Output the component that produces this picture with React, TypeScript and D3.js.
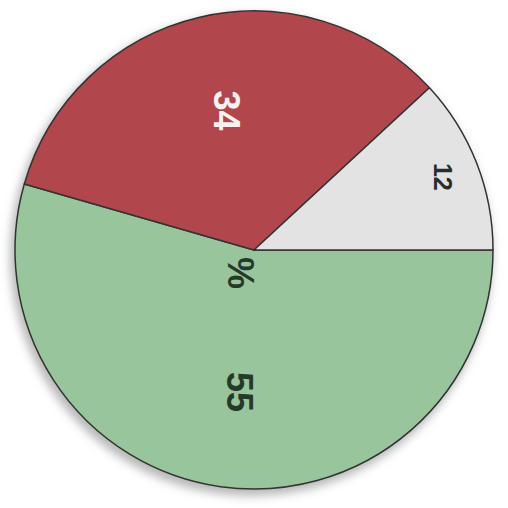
import React from "react";
import * as d3 from "d3";

// slice values (percent), in drawing order clockwise from 3 o'clock
const labels = ["55", "34", "12"];
const values = [55, 34, 12];
const fills = ["#99c59c", "#b1464c", "#e3e3e3"];
const textColors = ["#263a2b", "#f6f1ef", "#2c2c2c"];
const unit = "%";

const W = 508;
const H = 508;
const cx = 254;
const cy = 250;
const radius = 239;

const App = () => {
  const pie = d3
    .pie<number>()
    .sort(null)
    .value((d) => d)
    .startAngle(Math.PI / 2)
    .endAngle(Math.PI / 2 + 2 * Math.PI);

  const arcs = pie(values);

  const arc = d3.arc<d3.PieArcDatum<number>>().innerRadius(0).outerRadius(radius);

  // labels sit further out on thin slices
  const labelPos = (d: d3.PieArcDatum<number>) => {
    const span = d.endAngle - d.startAngle;
    const r = span < 1 ? radius * 0.84 : radius * 0.6;
    return d3.arc<d3.PieArcDatum<number>>().innerRadius(r).outerRadius(r).centroid(d);
  };

  return (
    <svg
      width={W}
      height={H}
      style={{ position: "absolute", left: 0, top: 0, background: "#fff" }}
    >
      <defs>
        <filter id="shadow" x="-20%" y="-20%" width="140%" height="140%">
          <feGaussianBlur stdDeviation="5" />
        </filter>
      </defs>
      <circle cx={cx - 3} cy={cy + 5} r={radius + 2} fill="#b8b8b8" filter="url(#shadow)" />
      <g transform={`translate(${cx},${cy})`}>
        {arcs.map((d, i) => (
          <path
            key={labels[i]}
            d={arc(d) || ""}
            fill={fills[i]}
            stroke="#333"
            strokeWidth={1.5}
            strokeLinejoin="round"
          />
        ))}
        {arcs.map((d, i) => {
          const [x, y] = labelPos(d);
          const small = d.endAngle - d.startAngle < 1;
          return (
            <text
              key={"t" + labels[i]}
              transform={`translate(${x + (small ? 2 : 6)},${y}) rotate(90)`}
              textAnchor="middle"
              dominantBaseline="central"
              fontFamily="Liberation Sans, Arial, sans-serif"
              fontWeight="bold"
              fontSize={small ? 25 : 36}
              fill={textColors[i]}
            >
              {labels[i]}
            </text>
          );
        })}
        <text
          transform={`translate(-14,23) rotate(90)`}
          textAnchor="middle"
          dominantBaseline="central"
          fontFamily="Liberation Sans, Arial, sans-serif"
          fontWeight="bold"
          fontSize={36}
          fill="#263a2b"
        >
          {unit}
        </text>
      </g>
    </svg>
  );
};

export default App;
